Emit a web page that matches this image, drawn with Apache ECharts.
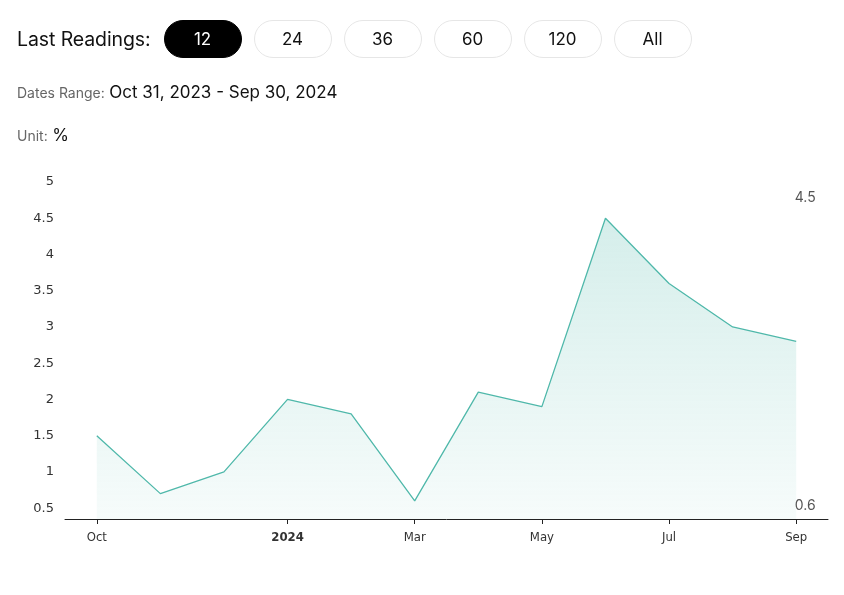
<!DOCTYPE html>
<html>
<head>
<meta charset="utf-8">
<script src="https://cdn.jsdelivr.net/npm/echarts@6/dist/echarts.min.js"></script>
<style>
  html,body{margin:0;padding:0;background:#fff;width:844px;height:595px;overflow:hidden;font-family:Inter,"Noto Sans",sans-serif;}
  #chart{position:absolute;left:0;top:0;width:844px;height:595px;}
  .hdr{position:absolute;left:17px;top:20px;display:flex;align-items:center;z-index:2;}
  .lbl{font-size:19.5px;color:#111;margin-right:13px;letter-spacing:-0.1px;}
  .btn{width:78px;height:38px;box-sizing:border-box;border:1px solid #e6e6e6;border-radius:19px;display:flex;align-items:center;justify-content:center;font-size:17px;color:#111;margin-right:12px;background:#fff;}
  .btn.on{background:#000;color:#fff;border-color:#000;}
  .line{position:absolute;left:17px;z-index:2;}
  .g{font-size:14px;color:#666;}
  .v{font-size:17px;color:#111;}
</style>
</head>
<body>
<div id="chart"></div>
<div class="hdr"><span class="lbl">Last Readings:</span>
  <div class="btn on">12</div><div class="btn">24</div><div class="btn">36</div><div class="btn">60</div><div class="btn">120</div><div class="btn">All</div>
</div>
<div class="line" style="top:82px;"><span class="g">Dates Range:</span> <span class="v">Oct 31, 2023 - Sep 30, 2024</span></div>
<div class="line" style="top:125px;"><span class="g">Unit:</span> <span class="v">%</span></div>
<script>
const categories = ["Oct","Nov","Dec","2024","Feb","Mar","Apr","May","Jun","Jul","Aug","Sep"];
const values = [1.5, 0.7, 1.0, 2.0, 1.8, 0.6, 2.1, 1.9, 4.5, 3.6, 3.0, 2.8];
const yTicks = [0.5, 1, 1.5, 2, 2.5, 3, 3.5, 4, 4.5, 5];
const shownLabels = ["Oct","2024","Mar","May","Jul","Sep"];

const maxV = Math.max(...values), minV = Math.min(...values);
const chart = echarts.init(document.getElementById('chart'), null, {renderer:'canvas'});
const showIdx = (i, v) => shownLabels.indexOf(categories[i]) >= 0;
chart.setOption({
  animation:false,
  grid:{left:65, right:16, top:182, bottom:76},
  xAxis:{
    type:'category', data:categories, boundaryGap:true,
    axisLine:{lineStyle:{color:'#222', width:1}},
    axisTick:{show:true, alignWithLabel:true, interval:showIdx, length:5, lineStyle:{color:'#222', width:1}},
    axisLabel:{interval:showIdx, margin:12, fontSize:13, color:'#333', fontFamily:'DejaVu Sans Condensed',
      formatter:v => v === '2024' ? '{b|2024}' : v,
      rich:{b:{fontWeight:'bold', fontSize:13, color:'#333', fontFamily:'DejaVu Sans Condensed'}}},
    splitLine:{show:false}
  },
  yAxis:{
    type:'value', min:0.35, max:5,
    axisLine:{show:false}, axisTick:{show:false}, splitLine:{show:false},
    axisLabel:{customValues:yTicks, fontSize:13, color:'#333', margin:11, fontFamily:'DejaVu Sans'}
  },
  series:[{
    type:'line', data:values, symbol:'none',
    lineStyle:{color:'#4fb8aa', width:1.3},
    areaStyle:{color:new echarts.graphic.LinearGradient(0,0,0,1,[
      {offset:0,color:'rgba(79,184,170,0.34)'},{offset:1,color:'rgba(79,184,170,0.07)'}])},
    markPoint:{
      symbol:'circle', symbolSize:1,
      itemStyle:{color:'rgba(0,0,0,0)'},
      label:{show:true, position:'inside', color:'#555', fontSize:14, fontFamily:'Inter'},
      data:[
        {coord:[categories.length-1, maxV], value:maxV, label:{formatter:String(maxV), offset:[9,-20]}},
        {coord:[categories.length-1, minV], value:minV, label:{formatter:String(minV), offset:[9,5]}}
      ]
    }
  }]
});
</script>
</body>
</html>
